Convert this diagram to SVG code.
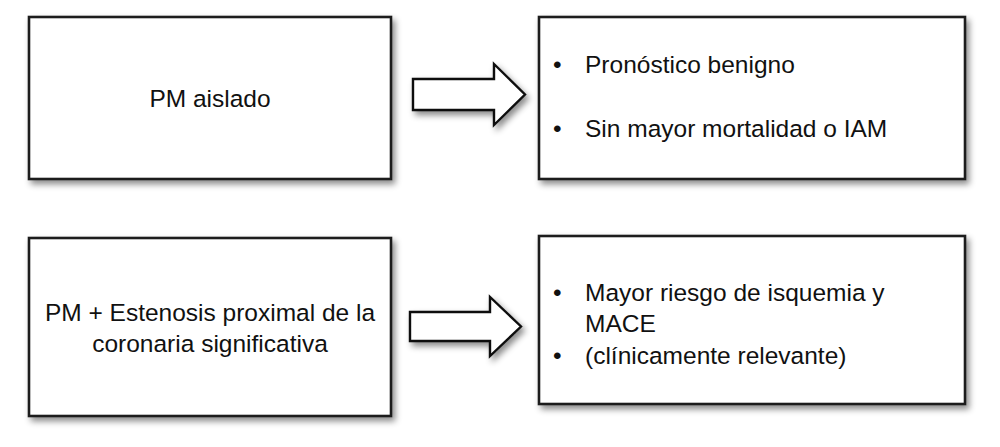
<svg xmlns="http://www.w3.org/2000/svg" width="1000" height="447" viewBox="0 0 1000 447">
<defs>
<filter id="sh" x="-10%" y="-10%" width="130%" height="130%">
<feDropShadow dx="3" dy="4" stdDeviation="3" flood-color="#000" flood-opacity="0.45"/>
</filter>
</defs>
<style>
.box{fill:#fff;stroke:#1e1e1e;stroke-width:2.6;filter:url(#sh)}
.arr{fill:#fff;stroke:#111;stroke-width:2.4;stroke-linejoin:miter;filter:url(#sh)}
text{font-family:"Liberation Sans",Arial,sans-serif;font-size:24.5px;fill:#111}
.c{text-anchor:middle}
</style>
<rect width="1000" height="447" fill="#fff"/>
<g id="node-pm-aislado">
<rect class="box" x="29" y="17" width="362" height="162"/>
<text class="c" x="210" y="107">PM aislado</text>
</g>
<g id="node-pronostico">
<rect class="box" x="539" y="17" width="426" height="162"/>
<text x="553" y="73">•</text>
<text x="585" y="73">Pronóstico benigno</text>
<text x="553" y="137">•</text>
<text x="585" y="137">Sin mayor mortalidad o IAM</text>
</g>
<g id="node-pm-estenosis">
<rect class="box" x="29" y="238" width="362" height="178"/>
<text class="c" x="210" y="321">PM + Estenosis proximal de la</text>
<text class="c" x="210" y="352">coronaria significativa</text>
</g>
<g id="node-riesgo">
<rect class="box" x="539" y="236" width="426" height="168"/>
<text x="553" y="301">•</text>
<text x="585" y="301">Mayor riesgo de isquemia y</text>
<text x="585" y="332">MACE</text>
<text x="553" y="364">•</text>
<text x="585" y="364">(clínicamente relevante)</text>
</g>
<g id="connectors">
<path class="arr" d="M413,79 H494 V64 L525,94.5 L494,125 V110 H413 Z"/>
<path class="arr" d="M410,312 H490 V297 L521,326.5 L490,356 V341 H410 Z"/>
</g>
</svg>
